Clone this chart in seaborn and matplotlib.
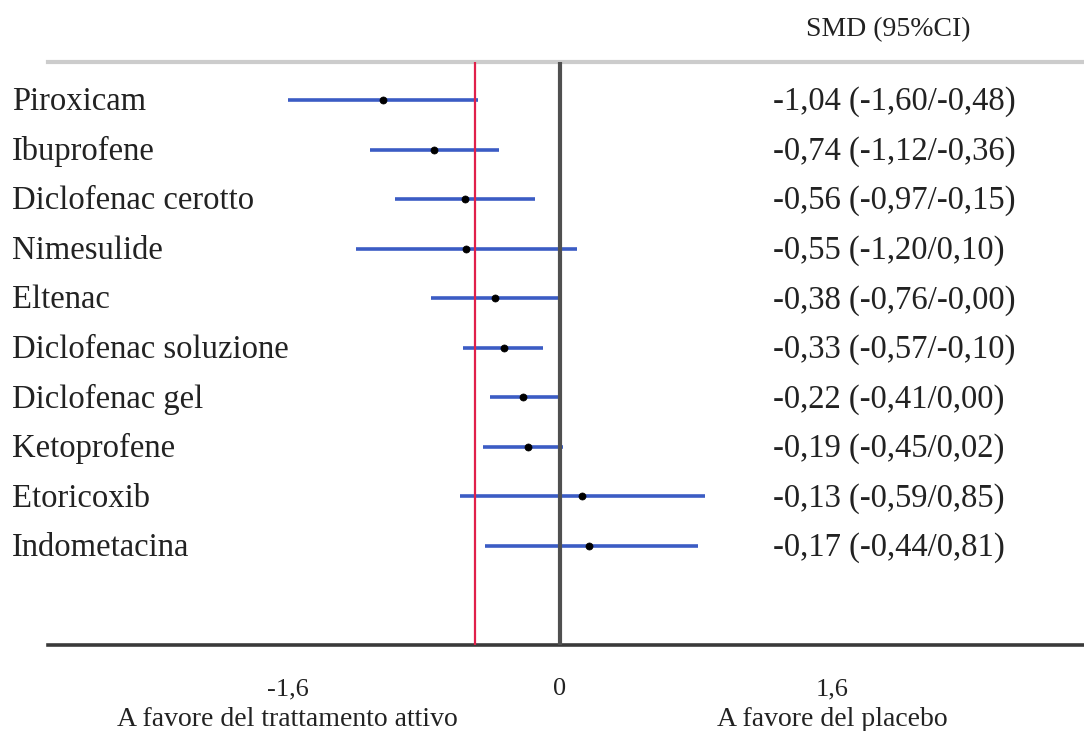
import matplotlib
matplotlib.use("Agg")
import matplotlib.pyplot as plt
import matplotlib.transforms as mtransforms
import seaborn as sns
import pandas as pd

# ---- data ----
drugs = ["Piroxicam", "Ibuprofene", "Diclofenac cerotto", "Nimesulide", "Eltenac",
         "Diclofenac soluzione", "Diclofenac gel", "Ketoprofene", "Etoricoxib", "Indometacina"]
smd = [-1.04, -0.74, -0.56, -0.55, -0.38, -0.33, -0.22, -0.19, 0.13, 0.17]
ci_low = [-1.60, -1.12, -0.97, -1.20, -0.76, -0.57, -0.41, -0.45, -0.59, -0.44]
ci_high = [-0.48, -0.36, -0.15, 0.10, -0.00, -0.10, 0.00, 0.02, 0.85, 0.81]
value_labels = ["-1,04 (-1,60/-0,48)", "-0,74 (-1,12/-0,36)", "-0,56 (-0,97/-0,15)",
                "-0,55 (-1,20/0,10)", "-0,38 (-0,76/-0,00)", "-0,33 (-0,57/-0,10)",
                "-0,22 (-0,41/0,00)", "-0,19 (-0,45/0,02)", "-0,13 (-0,59/0,85)",
                "-0,17 (-0,44/0,81)"]
pooled = -0.50
xticks = [-1.6, 0, 1.6]
xtick_labels = ["-1,6", "0", "1,6"]
header = "SMD (95%CI)"
left_caption = "A favore del trattamento attivo"
right_caption = "A favore del placebo"

sns.set_style("white")
plt.rcParams["font.family"] = ["Liberation Serif", "DejaVu Serif"]

W, H = 1084, 731
fig = plt.figure(figsize=(W / 100, H / 100), dpi=100)
ax = fig.add_axes([48 / W, (H - 645) / H, (W - 48) / W, (645 - 62) / H])

df = pd.DataFrame({"drug": drugs, "smd": smd, "lo": ci_low, "hi": ci_high})
df["row"] = range(len(df))

ax.hlines(df["row"], df["lo"], df["hi"], color="#3b5cc4", lw=2.6, zorder=2)
ax.axvline(pooled, color="#e0204a", lw=1.6, zorder=3)
ax.axvline(0, color="#505050", lw=3.0, zorder=3)
sns.scatterplot(data=df, x="smd", y="row", ax=ax, color="black", s=26,
                marker="o", edgecolor="black", linewidth=0.5, zorder=4, legend=False)

ax.set_xlim(-3.01, 3.08)
ax.set_ylim(11.0, -0.767)
ax.set_xlabel("")
ax.set_ylabel("")
ax.set_yticks([])
ax.set_xticks(xticks)
ax.set_xticklabels(xtick_labels, fontsize=19, color="#222222")
ax.tick_params(axis="x", direction="out", length=8, width=2.2, color="#333333", pad=16)

for side in ["left", "right"]:
    ax.spines[side].set_visible(False)
ax.spines["top"].set_color("#cccccc")
ax.spines["top"].set_linewidth(3)
ax.spines["bottom"].set_color("#3a3a3a")
ax.spines["bottom"].set_linewidth(2.6)

trans_fig_data = mtransforms.blended_transform_factory(fig.transFigure, ax.transData)
for i, (name, val) in enumerate(zip(drugs, value_labels)):
    ax.text(12 / W, i + 0.04, name, transform=trans_fig_data, ha="left", va="center",
            fontsize=23.5, color="#222222")
    ax.text(773 / W, i + 0.04, val, transform=trans_fig_data, ha="left", va="center",
            fontsize=23.5, color="#222222")

fig.text(888 / W, 1 - 30 / H, header, ha="center", va="center", fontsize=20, color="#222222")
trans_data_fig = mtransforms.blended_transform_factory(ax.transData, fig.transFigure)
fig.text(-1.6, 1 - 719 / H, left_caption, transform=trans_data_fig, ha="center",
         va="center", fontsize=20, color="#222222")
fig.text(1.6, 1 - 719 / H, right_caption, transform=trans_data_fig, ha="center",
         va="center", fontsize=20, color="#222222")

fig.savefig("out.png", dpi=100)
